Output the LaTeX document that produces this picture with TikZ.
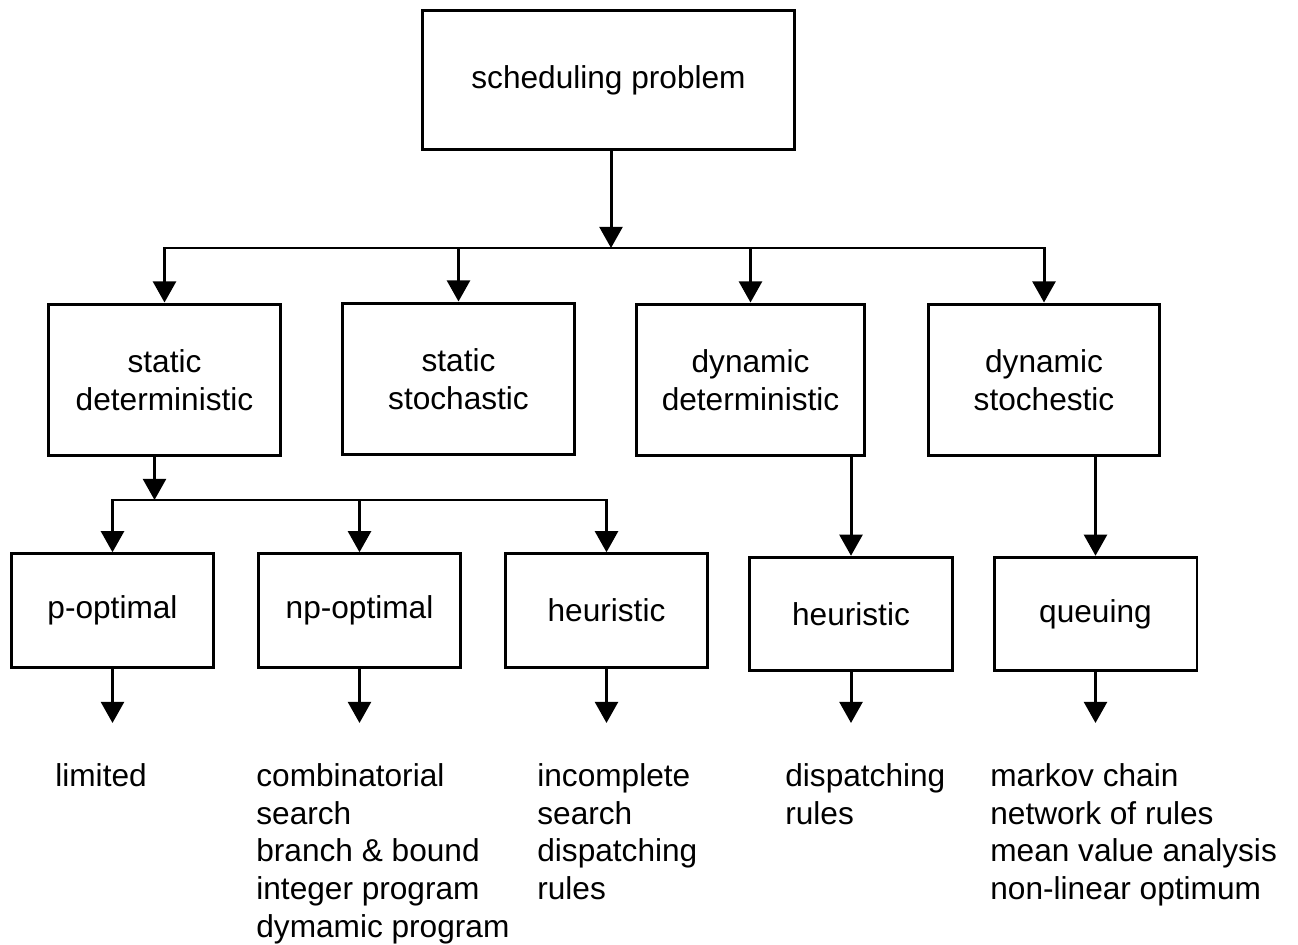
\documentclass[tikz,border=0pt]{standalone}
\usepackage{fontspec}
\setmainfont{Liberation Sans}
\usetikzlibrary{arrows.meta}

\begin{document}
\begin{tikzpicture}[x=0.02cm,y=-0.02cm,
	box/.style={draw,line width=1.7pt,align=center,inner sep=0pt,font=\fontsize{18}{21.5}\selectfont},
	bigbox/.style={box,minimum width=4.66cm,minimum height=3.04cm},
	smallbox/.style={box,minimum width=4.06cm,minimum height=2.27cm},
	arr/.style={line width=1.7pt,-{Triangle[length=12pt,width=13pt]}},
	methods/.style={anchor=north west,align=left,inner sep=0pt,font=\fontsize{18}{21.5}\selectfont}]

	\useasboundingbox (0,0) rectangle (1298,945);

	% problem
	\node[box,minimum width=7.46cm,minimum height=2.8cm] (prob) at (608.5,80) {scheduling problem};

	% classes
	\node[bigbox] (sd) at (164.5,380) {static\\deterministic};
	\node[bigbox] (ss) at (458.5,379) {static\\stochastic};
	\node[bigbox,minimum width=4.58cm] (dd) at (750.5,380) {dynamic\\deterministic};
	\node[bigbox,minimum width=4.64cm] (ds) at (1044,380) {dynamic\\stochestic};

	% approaches
	\node[smallbox] (popt) at (112.5,610.5) {p-optimal};
	\node[smallbox] (npopt) at (359.5,610.5) {np-optimal};
	\node[smallbox] (heur) at (606.5,610.5) {heuristic};
	\node[smallbox] (dheur) at (851,614) {heuristic};
	\node[smallbox] (queu) at (1095.5,614) {queuing};

	% methods
	\node[methods] (lim) at (55,763) {limited};
	\node[methods] (comb) at (256,763) {combinatorial\\search\\branch \& bound\\integer program\\dymamic program};
	\node[methods] (incs) at (537,763) {incomplete\\search\\dispatching\\rules};
	\node[methods] (disp) at (785,763) {dispatching\\rules};
	\node[methods] (mark) at (990,763) {markov chain\\network of rules\\mean value analysis\\non-linear optimum};

	% junctions
	\coordinate (j1) at (611,248);
	\coordinate (j2) at (154.5,500);
	\coordinate (tips) at (0,723);

	% top level
	\draw[arr] (prob.south -| j1) -- (j1);
	\draw[arr] (j1) -| (sd.north);
	\draw[arr] (j1) -| (ds.north);
	\draw[arr] (j1 -| ss) -- (ss.north);
	\draw[arr] (j1 -| dd) -- (dd.north);

	% static deterministic
	\draw[arr] (sd.south -| j2) -- (j2);
	\draw[arr] (j2) -| (popt.north);
	\draw[arr] (j2) -| (heur.north);
	\draw[arr] (j2 -| npopt) -- (npopt.north);

	% dynamic
	\draw[arr] (dd.south -| dheur) -- (dheur.north);
	\draw[arr] (ds.south -| queu) -- (queu.north);

	% bottom arrows
	\foreach \n in {popt,npopt,heur,dheur,queu}
		\draw[arr] (\n.south) -- (\n.south |- tips);

\end{tikzpicture}
\end{document}
